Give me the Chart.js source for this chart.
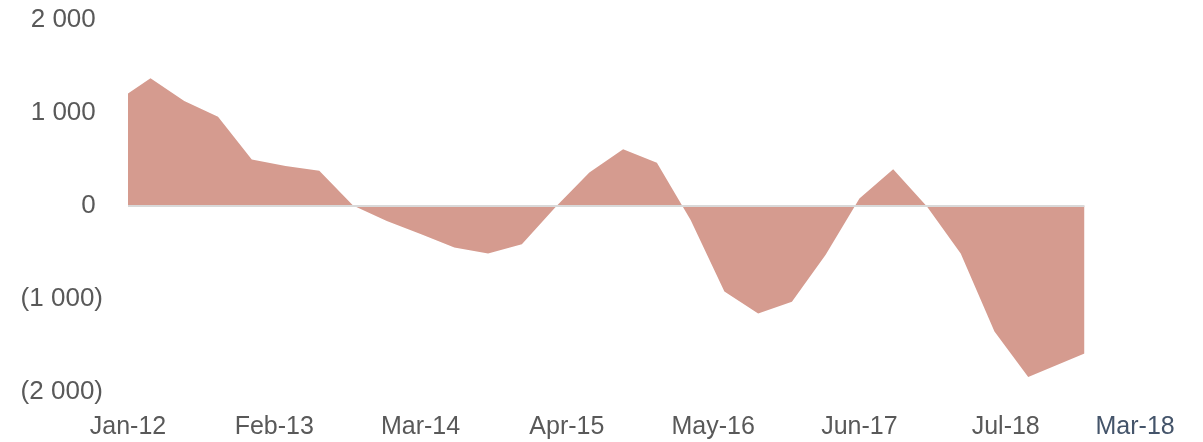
<!DOCTYPE html>
<html>
<head>
<meta charset="utf-8">
<script src="https://cdn.jsdelivr.net/npm/chart.js@4"></script>
<style>
  html, body { margin: 0; padding: 0; background: #fff; }
  #wrap { width: 1203px; height: 442px; }
</style>
</head>
<body>
<div id="wrap"><canvas id="netChart" width="1203" height="442"></canvas></div>
<script>
// months counted from Jan-12
const months = [0, 2, 5, 8, 11, 14, 17, 20, 23, 26, 29, 32, 35, 38, 41, 44, 47, 50, 53, 56, 59, 62, 65, 68, 71, 74, 77, 80, 85];
const values = [1210, 1375, 1130, 960, 500, 430, 380, 5, -160, -300, -445, -510, -410, -10, 360, 610, 465, -150, -920, -1155, -1030, -525, 80, 395, -5, -510, -1350, -1840, -1585];

// x axis labels and where they sit (months from Jan-12)
const tickLabels = ["Jan-12", "Feb-13", "Mar-14", "Apr-15", "May-16", "Jun-17", "Jul-18", "Mar-18"];
const tickMonths = [0, 13, 26, 39, 52, 65, 78, 89.5];
const yTicks = [-2000, -1000, 0, 1000, 2000];

const fillColor = "#d59b8f";
const textColor = "#595959";

function fmt(v) {
  const s = Math.abs(v).toString().replace(/\B(?=(\d{3})+(?!\d))/g, " ");
  return v < 0 ? "(" + s + ")" : s + " ";
}

// grey zero line over the area, spanning the data only
const zeroLine = {
  id: "zeroLine",
  afterDatasetsDraw(chart) {
    const x = chart.scales.x, y = chart.scales.y;
    const ctx = chart.ctx;
    const py = y.getPixelForValue(0);
    ctx.save();
    ctx.strokeStyle = "#d9d9d9";
    ctx.lineWidth = 2;
    ctx.beginPath();
    ctx.moveTo(x.getPixelForValue(months[0]), py);
    ctx.lineTo(x.getPixelForValue(months[months.length - 1]), py);
    ctx.stroke();
    ctx.restore();
  }
};

const ctx = document.getElementById("netChart").getContext("2d");
new Chart(ctx, {
  type: "line",
  data: {
    datasets: [{
      data: months.map((m, i) => ({ x: m, y: values[i] })),
      backgroundColor: fillColor,
      borderWidth: 0,
      pointRadius: 0,
      fill: "origin",
      tension: 0
    }]
  },
  options: {
    responsive: false,
    animation: false,
    layout: { padding: { left: 0, top: 20, right: 51, bottom: 0 } },
    plugins: { legend: { display: false }, tooltip: { enabled: false } },
    scales: {
      x: {
        type: "linear",
        min: 0,
        max: 91,
        grid: { display: false, drawTicks: false },
        border: { display: false },
        afterBuildTicks: (axis) => { axis.ticks = tickMonths.map(v => ({ value: v })); },
        afterFit: (axis) => { axis.height = 50; axis.paddingLeft = 0; axis.paddingRight = 0; },
        ticks: {
          autoSkip: false,
          maxRotation: 0,
          padding: 20,
          font: { family: "'Liberation Sans', Arial, sans-serif", size: 25 },
          color: (c) => c.index === tickLabels.length - 1 ? "#44546a" : textColor,
          callback: (v, i) => tickLabels[i]
        }
      },
      y: {
        min: -2000,
        max: 2000,
        grid: { display: false, drawTicks: false },
        border: { display: false },
        afterBuildTicks: (axis) => { axis.ticks = yTicks.map(v => ({ value: v })); },
        afterFit: (axis) => { axis.width = 128; axis.paddingTop = 0; axis.paddingBottom = 0; },
        ticks: {
          padding: 25,
          font: { family: "'Liberation Sans', Arial, sans-serif", size: 26 },
          color: textColor,
          callback: (v) => fmt(v)
        }
      }
    }
  },
  plugins: [zeroLine]
});
</script>
</body>
</html>
